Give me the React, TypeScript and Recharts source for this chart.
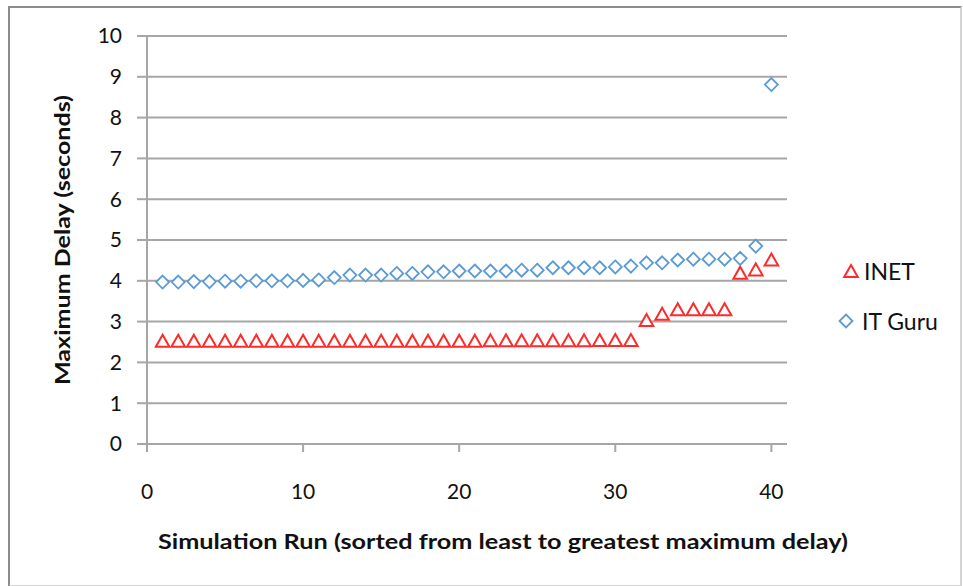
import {
  ScatterChart,
  Scatter,
  XAxis,
  YAxis,
  CartesianGrid,
} from 'recharts'

const runs = [
  1, 2, 3, 4, 5, 6, 7, 8, 9, 10, 11, 12, 13, 14, 15, 16, 17, 18, 19, 20,
  21, 22, 23, 24, 25, 26, 27, 28, 29, 30, 31, 32, 33, 34, 35, 36, 37, 38, 39, 40,
]

const inet = [
  2.53, 2.53, 2.53, 2.53, 2.53, 2.53, 2.53, 2.53, 2.53, 2.53,
  2.53, 2.53, 2.53, 2.53, 2.53, 2.53, 2.53, 2.53, 2.53, 2.53,
  2.53, 2.54, 2.54, 2.54, 2.54, 2.54, 2.54, 2.54, 2.55, 2.55,
  2.55, 3.04, 3.19, 3.3, 3.3, 3.3, 3.3, 4.2, 4.28, 4.52,
]

const itGuru = [
  3.97, 3.97, 3.98, 3.98, 3.99, 3.99, 4.0, 4.0, 4.0, 4.01,
  4.02, 4.08, 4.14, 4.14, 4.14, 4.18, 4.18, 4.22, 4.22, 4.24,
  4.24, 4.24, 4.24, 4.26, 4.26, 4.32, 4.32, 4.32, 4.32, 4.34,
  4.36, 4.44, 4.44, 4.51, 4.53, 4.53, 4.53, 4.55, 4.85, 8.81,
]

const xTicks = [0, 10, 20, 30, 40]
const yTicks = [0, 1, 2, 3, 4, 5, 6, 7, 8, 9, 10]

const inetData = runs.map((r, i) => ({ run: r, delay: inet[i] }))
const itGuruData = runs.map((r, i) => ({ run: r, delay: itGuru[i] }))

const RED = '#ff2a2a'
const BLUE = '#5b9bd5'
const GRID = '#a6a6a6'
const FONT = 'Lato, "Open Sans", sans-serif'

const triPath = (cx: number, cy: number) =>
  `M${cx},${cy - 6} L${cx + 6.8},${cy + 6} L${cx - 6.8},${cy + 6} Z`
const diaPath = (cx: number, cy: number) =>
  `M${cx},${cy - 6.5} L${cx + 6.5},${cy} L${cx},${cy + 6.5} L${cx - 6.5},${cy} Z`

const Triangle = (props: any) => (
  <path d={triPath(props.cx, props.cy)} fill="#fff" stroke={RED} strokeWidth={2} />
)
const Diamond = (props: any) => (
  <path d={diaPath(props.cx, props.cy)} fill="#fff" stroke={BLUE} strokeWidth={1.8} />
)

// legend drawn beside the plot, like the Excel original
const LegendBox = () => (
  <svg width={125} height={90} style={{ display: 'block' }}>
    <path d={triPath(13, 16)} fill="#fff" stroke={RED} strokeWidth={2} />
    <text x={26} y={16} dominantBaseline="central" fontSize={23} fontFamily={FONT} fill="#111">
      INET
    </text>
    <path d={diaPath(8, 66)} fill="#fff" stroke={BLUE} strokeWidth={1.8} />
    <text x={24} y={66} dominantBaseline="central" fontSize={23} fontFamily={FONT} fill="#111">
      IT Guru
    </text>
  </svg>
)

export default function App() {
  return (
    <div
      style={{
        position: 'absolute',
        left: 0,
        top: 0,
        width: 963,
        height: 586,
        background: '#fff',
        fontFamily: FONT,
      }}
    >
      <div
        style={{
          position: 'absolute',
          left: 8,
          top: 6,
          width: 950,
          height: 577,
          borderTop: '2px solid #8c8c8c',
          borderLeft: '2px solid #8c8c8c',
          borderRight: '2px solid #d4d4d4',
          borderBottom: '2px solid #d4d4d4',
        }}
      />
      <div style={{ position: 'absolute', left: 0, top: 0 }}>
        <ScatterChart
          width={963}
          height={586}
          margin={{ top: 36, right: 176, bottom: 82, left: 87 }}
        >
          <CartesianGrid horizontal vertical={false} stroke={GRID} strokeWidth={2} />
          <XAxis
            type="number"
            dataKey="run"
            domain={[0, 41]}
            ticks={xTicks}
            allowDataOverflow
            height={60}
            axisLine={{ stroke: GRID, strokeWidth: 2 }}
            tickLine={{ stroke: GRID, strokeWidth: 2 }}
            tickSize={8}
            tickMargin={32}
            tick={{ fill: '#111', fontSize: 21, fontFamily: FONT }}
            label={{
              content: () => (
                <text
                  x={503}
                  y={541}
                  textAnchor="middle"
                  dominantBaseline="central"
                  fontSize={20}
                  fontWeight="bold"
                  fontFamily={FONT}
                  fill="#111"
                  textLength={690}
                  lengthAdjust="spacingAndGlyphs"
                >
                  Simulation Run (sorted from least to greatest maximum delay)
                </text>
              ),
            }}
          />
          <YAxis
            type="number"
            dataKey="delay"
            domain={[0, 10]}
            ticks={yTicks}
            width={60}
            axisLine={{ stroke: GRID, strokeWidth: 2 }}
            tickLine={{ stroke: GRID, strokeWidth: 2 }}
            tickSize={10}
            tickMargin={15}
            tick={{ fill: '#111', fontSize: 21, fontFamily: FONT }}
            label={{
              content: () => (
                <text
                  x={62}
                  y={240}
                  transform="rotate(-90, 62, 240)"
                  textAnchor="middle"
                  dominantBaseline="central"
                  fontSize={20}
                  fontWeight="bold"
                  fontFamily={FONT}
                  fill="#111"
                  textLength={290}
                  lengthAdjust="spacingAndGlyphs"
                >
                  Maximum Delay (seconds)
                </text>
              ),
            }}
          />
          <Scatter
            name="INET"
            data={inetData}
            shape={Triangle}
            isAnimationActive={false}
          />
          <Scatter
            name="IT Guru"
            data={itGuruData}
            shape={Diamond}
            isAnimationActive={false}
          />
        </ScatterChart>
      </div>
      <div style={{ position: 'absolute', left: 838, top: 255 }}>
        <LegendBox />
      </div>
    </div>
  )
}
